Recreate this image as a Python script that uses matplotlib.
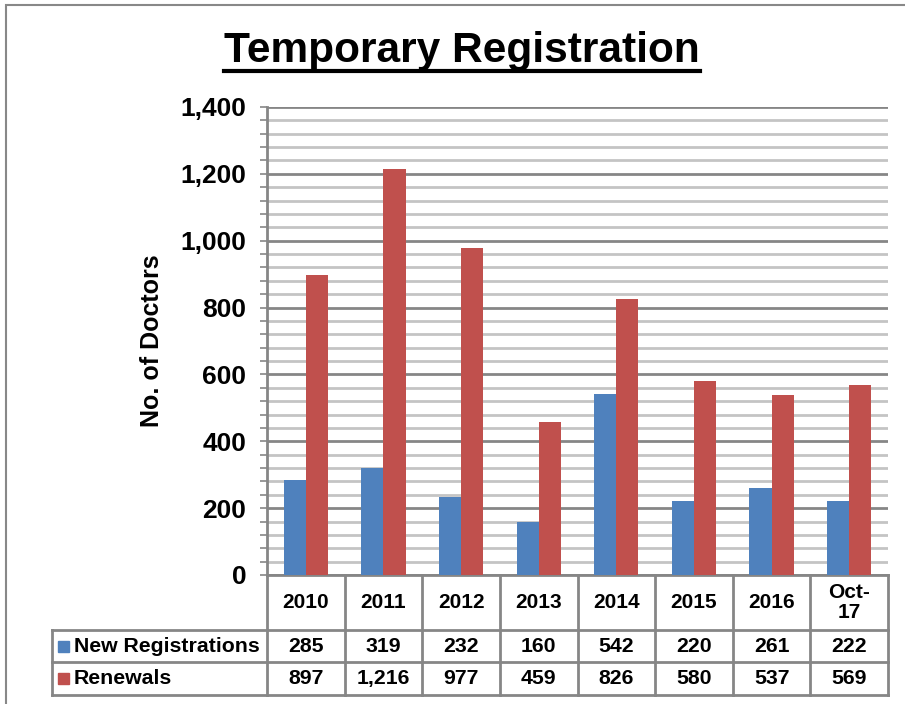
import numpy as np
import matplotlib.pyplot as plt
from matplotlib.transforms import blended_transform_factory
from matplotlib.patches import Rectangle

plt.rcParams['font.family'] = ['Liberation Sans', 'DejaVu Sans']
plt.rcParams['font.weight'] = 'bold'

categories = ['2010', '2011', '2012', '2013', '2014', '2015', '2016', 'Oct-\n17']
new_reg = [285, 319, 232, 160, 542, 220, 261, 222]
renewals = [897, 1216, 977, 459, 826, 580, 537, 569]
series_names = ['New Registrations', 'Renewals']
colors = ['#4F81BD', '#C0504D']
grid_major = '#868686'
grid_minor = '#c4c4c4'

W, H = 905, 704
fig = plt.figure(figsize=(W / 100, H / 100), dpi=100)

def fy(py):
    return 1 - py / H

def fx(px):
    return px / W

# outer border of the chart area
fig.patches.append(Rectangle((fx(6), -0.05), 1.2, fy(5) + 0.05, transform=fig.transFigure,
                             fill=False, edgecolor='#888888', linewidth=1.5))

ax = fig.add_axes([fx(267), fy(575), fx(888) - fx(267), fy(107) - fy(575)])

x = np.arange(len(categories))
w = 0.285
ax.bar(x - w / 2, new_reg, w, color=colors[0], zorder=3)
ax.bar(x + w / 2, renewals, w, color=colors[1], zorder=3)

ax.set_xlim(-0.5, len(categories) - 0.5)
ax.set_ylim(0, 1400)
ax.set_yticks(np.arange(0, 1401, 200))
ax.set_yticks(np.arange(0, 1401, 40), minor=True)
ax.set_yticklabels([f'{v:,}' for v in range(0, 1401, 200)], fontsize=19, fontweight='bold')
ax.tick_params(axis='y', which='both', direction='out', length=5, width=1.2,
               color=grid_major, pad=10)
ax.set_xticks([])
ax.grid(axis='y', which='minor', color=grid_minor, linewidth=2, zorder=0)
ax.grid(axis='y', which='major', color=grid_major, linewidth=2, zorder=1)
for side in ['top', 'right']:
    ax.spines[side].set_visible(False)
ax.spines['left'].set_color(grid_major)
ax.spines['left'].set_linewidth(2)
ax.spines['bottom'].set_color(grid_major)
ax.spines['bottom'].set_linewidth(2)
ax.set_ylabel('No. of Doctors', fontsize=18, fontweight='bold', labelpad=12)

# title with underline
title = fig.text(fx(462), fy(51), 'Temporary Registration', ha='center', va='center',
                 fontsize=30.5, fontweight='bold')
fig.canvas.draw()
bb = title.get_window_extent().transformed(fig.transFigure.inverted())
fig.add_artist(plt.Line2D([bb.x0, bb.x1], [fy(71), fy(71)], transform=fig.transFigure,
                          color='black', linewidth=3))

# data table under the axis
tr = blended_transform_factory(ax.transData, fig.transFigure)
row_y = [575, 630, 662, 695]
left_x = -0.5 + (52 - 267) / (888 - 267) * len(categories)
lc = dict(color=grid_major, linewidth=2, transform=tr, clip_on=False)
for b in np.arange(len(categories) + 1) - 0.5:
    ax.add_line(plt.Line2D([b, b], [fy(row_y[0]), fy(row_y[-1])], **lc))
ax.add_line(plt.Line2D([left_x, left_x], [fy(row_y[1]), fy(row_y[-1])], **lc))
for py in row_y[1:]:
    ax.add_line(plt.Line2D([left_x, len(categories) - 0.5], [fy(py), fy(py)], **lc))

hdr_y = fy((row_y[0] + row_y[1]) / 2)
for i, c in enumerate(categories):
    ax.text(i, hdr_y, c, transform=tr, ha='center', va='center', fontsize=15,
            fontweight='bold', linespacing=1.0, clip_on=False)

for r, (name, vals, col) in enumerate(zip(series_names, [new_reg, renewals], colors)):
    cy = fy((row_y[r + 1] + row_y[r + 2]) / 2)
    fig.add_artist(Rectangle((fx(58), cy - 5.5 / H), 11 / W, 11 / H,
                             transform=fig.transFigure, color=col))
    fig.text(fx(74), cy, name, ha='left', va='center', fontsize=15.3, fontweight='bold')
    for i, v in enumerate(vals):
        ax.text(i, cy, f'{v:,}', transform=tr, ha='center', va='center',
                fontsize=15.3, fontweight='bold', clip_on=False)

fig.savefig('out.png', dpi=100)
